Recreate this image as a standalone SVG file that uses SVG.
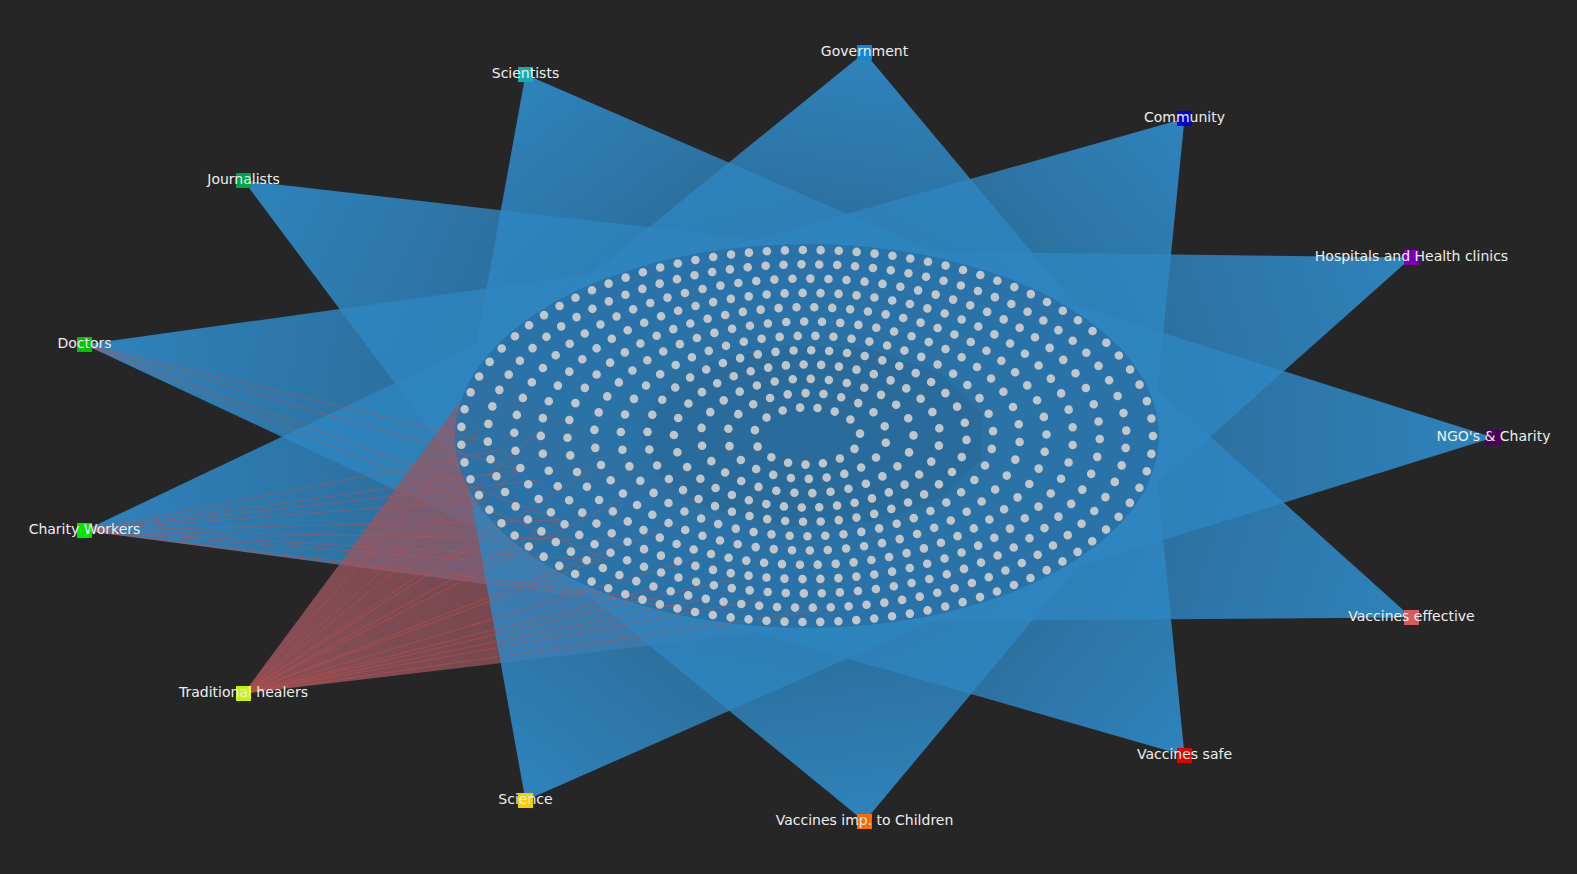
<svg xmlns="http://www.w3.org/2000/svg" width="1577" height="874" viewBox="0 0 1577 874">
<style>
.lbl{font-family:"DejaVu Sans","Liberation Sans",sans-serif;font-size:14px;fill:#eeeeee;text-anchor:middle}
.hub{stroke:none}
.ring{fill:none;stroke:#cdcdcd;stroke-width:8.6;stroke-linecap:round;stroke-opacity:0.92}
.red{stroke:#c8504a;stroke-width:1;stroke-opacity:0.5;fill:none}
</style>
<defs>
<linearGradient id="gb" gradientUnits="userSpaceOnUse">
<stop offset="0" stop-color="#2e86c1" stop-opacity="0.97"/>
<stop offset="0.5" stop-color="#2e86c1" stop-opacity="0.75"/>
<stop offset="1" stop-color="#2e86c1" stop-opacity="0.5"/>
</linearGradient>
<linearGradient id="g1" href="#gb" x1="864.5" y1="52.5" x2="807" y2="436"/>
<linearGradient id="g2" href="#gb" x1="525.5" y1="74.5" x2="807" y2="436"/>
<linearGradient id="g3" href="#gb" x1="1184.5" y1="118.5" x2="807" y2="436"/>
<linearGradient id="g4" href="#gb" x1="243.5" y1="180.5" x2="807" y2="436"/>
<linearGradient id="g5" href="#gb" x1="1411.5" y1="257.5" x2="807" y2="436"/>
<linearGradient id="g6" href="#gb" x1="84.5" y1="344.5" x2="807" y2="436"/>
<linearGradient id="g7" href="#gb" x1="1493.5" y1="437.5" x2="807" y2="436"/>
<linearGradient id="g8" href="#gb" x1="84.5" y1="530.5" x2="807" y2="436"/>
<linearGradient id="g9" href="#gb" x1="1411.5" y1="617.5" x2="807" y2="436"/>
<linearGradient id="g11" href="#gb" x1="1184.5" y1="755.5" x2="807" y2="436"/>
<linearGradient id="g12" href="#gb" x1="525.5" y1="800.5" x2="807" y2="436"/>
<linearGradient id="g13" href="#gb" x1="864.5" y1="821.5" x2="807" y2="436"/>
<linearGradient id="g10" gradientUnits="userSpaceOnUse" x1="243.5" y1="693.5" x2="807" y2="436">
<stop offset="0" stop-color="#b04a48" stop-opacity="0.85"/>
<stop offset="1" stop-color="#b04a48" stop-opacity="0.45"/>
</linearGradient>
</defs>
<rect width="1577" height="874" fill="#262626"/>
<g id="edges">
<path d="M864.5 52.5 L1122 360 L519 333 Z" fill="url(#g1)"/>
<path d="M525.5 74.5 L1025 291 L463 418 Z" fill="url(#g2)"/>
<path d="M1184.5 118.5 L1152 446 L645 271 Z" fill="url(#g3)"/>
<path d="M243.5 180.5 L880 254 L486 505 Z" fill="url(#g4)"/>
<path d="M1411.5 257.5 L1103 532 L815 250 Z" fill="url(#g5)"/>
<path d="M84.5 344.5 L720 256 L580 576 Z" fill="url(#g6)"/>
<path d="M1493.5 437.5 L980 597 L983 276 Z" fill="url(#g7)"/>
<path d="M84.5 530.5 L578 296 L723 616 Z" fill="url(#g8)"/>
<path d="M1411.5 617.5 L812 622 L1104 341 Z" fill="url(#g9)"/>
<path d="M243.5 693.5 L486 367 L882 618 Z" fill="url(#g10)"/>
<path d="M243.5 693.5 L486 367 L882 618 Z" fill="#2e86c1" fill-opacity="0.15"/>
<path d="M1184.5 755.5 L644 600 L1152 426 Z" fill="url(#g11)"/>
<path d="M525.5 800.5 L463 454 L1026 580 Z" fill="url(#g12)"/>
<path d="M864.5 821.5 L518 538 L1123 512 Z" fill="url(#g13)"/>
<ellipse cx="807" cy="436" rx="352" ry="192" fill="#2a72a6" fill-opacity="0.93"/>
<path class="red" d="M84.5 530.5 L520 470 M84.5 530.5 L560 520 M84.5 530.5 L600 560 M84.5 530.5 L480 500 M84.5 530.5 L540 480 M84.5 530.5 L620 540 M84.5 530.5 L660 600 M84.5 530.5 L500 450 M84.5 530.5 L470 560 M84.5 530.5 L700 610 M84.5 344.5 L520 470 M84.5 344.5 L560 520 M84.5 344.5 L480 440 M84.5 344.5 L610 560"/>
<path class="red" d="M243.5 693.5 L520 470 M243.5 693.5 L560 520 M243.5 693.5 L600 560 M243.5 693.5 L650 590 M243.5 693.5 L700 600 M243.5 693.5 L480 430 M243.5 693.5 L540 430 M243.5 693.5 L620 500 M243.5 693.5 L690 560 M243.5 693.5 L760 600 M243.5 693.5 L820 610 M243.5 693.5 L500 520 M243.5 693.5 L590 470 M243.5 693.5 L660 530 M243.5 693.5 L730 580"/>
</g>
<g id="leaves">
<ellipse class="ring" cx="807" cy="436" rx="53.2" ry="28.6" stroke-dasharray="0 17.53" stroke-dashoffset="3"/>
<ellipse class="ring" cx="807" cy="436" rx="79.8" ry="42.9" stroke-dasharray="0 17.93" stroke-dashoffset="11"/>
<ellipse class="ring" cx="807" cy="436" rx="106.5" ry="57.2" stroke-dasharray="0 18.13" stroke-dashoffset="1"/>
<ellipse class="ring" cx="807" cy="436" rx="133.1" ry="71.5" stroke-dasharray="0 17.76" stroke-dashoffset="8"/>
<ellipse class="ring" cx="807" cy="436" rx="159.7" ry="85.8" stroke-dasharray="0 17.93" stroke-dashoffset="14"/>
<ellipse class="ring" cx="807" cy="436" rx="186.3" ry="100.2" stroke-dasharray="0 18.04" stroke-dashoffset="5"/>
<ellipse class="ring" cx="807" cy="436" rx="212.9" ry="114.5" stroke-dasharray="0 18.13" stroke-dashoffset="12"/>
<ellipse class="ring" cx="807" cy="436" rx="239.5" ry="128.8" stroke-dasharray="0 17.93" stroke-dashoffset="2"/>
<ellipse class="ring" cx="807" cy="436" rx="266.2" ry="143.1" stroke-dasharray="0 18.01" stroke-dashoffset="9"/>
<ellipse class="ring" cx="807" cy="436" rx="292.8" ry="157.4" stroke-dasharray="0 18.08" stroke-dashoffset="15"/>
<ellipse class="ring" cx="807" cy="436" rx="319.4" ry="171.7" stroke-dasharray="0 17.93" stroke-dashoffset="6"/>
<ellipse class="ring" cx="807" cy="436" rx="346" ry="186" stroke-dasharray="0 17.99" stroke-dashoffset="0"/>
</g>
<g id="hub-government"><rect class="hub" x="857" y="45" width="15" height="15" fill="#1185d9"/><text class="lbl" x="864.5" y="55.5">Government</text></g>
<g id="hub-scientists"><rect class="hub" x="518" y="67" width="15" height="15" fill="#13adb0"/><text class="lbl" x="525.5" y="77.5">Scientists</text></g>
<g id="hub-community"><rect class="hub" x="1177" y="111" width="15" height="15" fill="#0000dd"/><text class="lbl" x="1184.5" y="121.5">Community</text></g>
<g id="hub-journalists"><rect class="hub" x="236" y="173" width="15" height="15" fill="#00a544"/><text class="lbl" x="243.5" y="183.5">Journalists</text></g>
<g id="hub-hospitals"><rect class="hub" x="1404" y="250" width="15" height="15" fill="#7b00b3"/><text class="lbl" x="1411.5" y="260.5">Hospitals and Health clinics</text></g>
<g id="hub-doctors"><rect class="hub" x="77" y="337" width="15" height="15" fill="#00c400"/><text class="lbl" x="84.5" y="347.5">Doctors</text></g>
<g id="hub-ngo"><rect class="hub" x="1486" y="430" width="15" height="15" fill="#4b005e"/><text class="lbl" x="1493.5" y="440.5">NGO's &amp; Charity</text></g>
<g id="hub-charity-workers"><rect class="hub" x="77" y="523" width="15" height="15" fill="#00e600"/><text class="lbl" x="84.5" y="533.5">Charity Workers</text></g>
<g id="hub-vaccines-effective"><rect class="hub" x="1404" y="610" width="15" height="15" fill="#d65c5c"/><text class="lbl" x="1411.5" y="620.5">Vaccines effective</text></g>
<g id="hub-traditional-healers"><rect class="hub" x="236" y="686" width="15" height="15" fill="#c6f500"/><text class="lbl" x="243.5" y="696.5">Traditional healers</text></g>
<g id="hub-vaccines-safe"><rect class="hub" x="1177" y="748" width="15" height="15" fill="#e60000"/><text class="lbl" x="1184.5" y="758.5">Vaccines safe</text></g>
<g id="hub-science"><rect class="hub" x="518" y="793" width="15" height="15" fill="#f5d000"/><text class="lbl" x="525.5" y="803.5">Science</text></g>
<g id="hub-vaccines-children"><rect class="hub" x="857" y="814" width="15" height="15" fill="#ff6a00"/><text class="lbl" x="864.5" y="824.5">Vaccines imp. to Children</text></g>
</svg>
